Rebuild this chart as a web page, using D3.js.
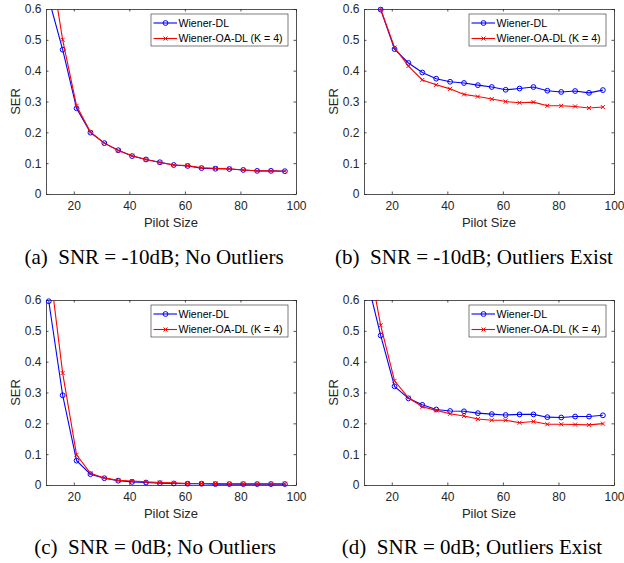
<!DOCTYPE html>
<meta charset="utf-8">
<head>
  <title>SER vs pilot size</title>
  <script type="text/javascript" src="https://d3js.org/d3.v7.min.js"></script>
  <style>
    body { margin: 0; background: #fff; }
    .axis text { font-family: "Liberation Sans", Arial, sans-serif; font-size: 12px; fill: #262626; }
    .lbl { font-family: "Liberation Sans", Arial, sans-serif; font-size: 13px; fill: #262626; }
    .leg { font-family: "Liberation Sans", Arial, sans-serif; font-size: 10.6px; fill: #000; }
    .cap { font-family: "Liberation Serif", "Times New Roman", serif; font-size: 21px; fill: #000; white-space: pre; }
  </style>
</head>

<body>
  <svg width="624" height="563"></svg>
  <script>
    // pilot sizes (x values shared by every panel)
    var pilot = [11, 16, 21, 26, 31, 36, 41, 46, 51, 56, 61, 66, 71, 76, 81, 86, 91, 96];

    // (a) SNR = -10dB, no outliers
    var aDL   = [0.633, 0.468, 0.278, 0.199, 0.165, 0.142, 0.123, 0.112, 0.103, 0.094, 0.091, 0.084, 0.082, 0.081, 0.078, 0.075, 0.075, 0.074];
    var aOA   = [0.780, 0.500, 0.286, 0.201, 0.165, 0.141, 0.124, 0.112, 0.102, 0.094, 0.092, 0.085, 0.083, 0.082, 0.078, 0.075, 0.075, 0.074];
    // (b) SNR = -10dB, outliers exist
    var bDL   = [0.750, 0.598, 0.470, 0.425, 0.394, 0.374, 0.364, 0.360, 0.353, 0.347, 0.338, 0.342, 0.347, 0.335, 0.331, 0.334, 0.328, 0.337];
    var bOA   = [0.780, 0.600, 0.475, 0.415, 0.370, 0.354, 0.341, 0.323, 0.316, 0.308, 0.300, 0.296, 0.298, 0.286, 0.286, 0.284, 0.279, 0.282];
    // (c) SNR = 0dB, no outliers
    var cDL   = [0.596, 0.291, 0.079, 0.035, 0.022, 0.014, 0.010, 0.008, 0.006, 0.005, 0.004, 0.004, 0.003, 0.003, 0.003, 0.003, 0.003, 0.003];
    var cOA   = [0.730, 0.363, 0.098, 0.038, 0.023, 0.015, 0.013, 0.010, 0.008, 0.007, 0.005, 0.005, 0.005, 0.004, 0.004, 0.004, 0.004, 0.004];
    // (d) SNR = 0dB, outliers exist
    var dDL   = [0.670, 0.485, 0.320, 0.281, 0.260, 0.245, 0.240, 0.239, 0.233, 0.230, 0.227, 0.229, 0.229, 0.220, 0.219, 0.222, 0.222, 0.226];
    var dOA   = [0.760, 0.518, 0.338, 0.283, 0.254, 0.242, 0.231, 0.224, 0.214, 0.210, 0.210, 0.202, 0.206, 0.197, 0.197, 0.196, 0.195, 0.199];

    var seriesNames = ["Wiener-DL", "Wiener-OA-DL (K = 4)"];
    var xTicks = [20, 40, 60, 80, 100];
    var yTicks = [0, 0.1, 0.2, 0.3, 0.4, 0.5, 0.6];
    var captions = ["(a)  SNR = -10dB; No Outliers", "(b)  SNR = -10dB; Outliers Exist",
                    "(c)  SNR = 0dB; No Outliers", "(d)  SNR = 0dB; Outliers Exist"];

    var svg = d3.select("svg"),
      w = 250,
      h = 185,
      axCol = "#262626";

    var panels = [
      { left: 46, top: 9, dl: aDL, oa: aOA, cx: 154, cy: 264 },
      { left: 364, top: 9, dl: bDL, oa: bOA, cx: 474, cy: 264 },
      { left: 46, top: 300, dl: cDL, oa: cOA, cx: 155, cy: 554 },
      { left: 364, top: 300, dl: dDL, oa: dOA, cx: 472, cy: 554 }
    ];

    var x = d3.scaleLinear().domain([10, 100]).range([0, w]);
    var y = d3.scaleLinear().domain([0, 0.6]).range([h, 0]);

    var line = d3.line()
      .x(function(d) { return x(d[0]); })
      .y(function(d) { return y(d[1]); });

    panels.forEach(function(p, i) {
      var g = svg.append("g").attr("transform", "translate(" + p.left + "," + p.top + ")");

      g.append("clipPath").attr("id", "clip" + i)
        .append("rect").attr("width", w).attr("height", h);

      // axes with inward ticks on all four sides
      var ax = [
        { a: d3.axisBottom(x).tickValues(xTicks).tickFormat(d3.format("d")).tickPadding(7), t: "translate(0," + h + ")" },
        { a: d3.axisTop(x).tickValues(xTicks).tickFormat(""), t: "translate(0,0)" },
        { a: d3.axisLeft(y).tickValues(yTicks).tickFormat(function(d) { return d === 0 ? "0" : d3.format(".1f")(d); }).tickPadding(4.5), t: "translate(0,0)" },
        { a: d3.axisRight(y).tickValues(yTicks).tickFormat(""), t: "translate(" + w + ",0)" }
      ];
      ax.forEach(function(o) {
        var s = g.append("g").attr("class", "axis").attr("transform", o.t)
          .call(o.a.tickSizeInner(-2.5).tickSizeOuter(0));
        s.select(".domain").attr("stroke", axCol).attr("stroke-width", 0.8);
        s.selectAll(".tick line").attr("stroke", axCol).attr("stroke-width", 0.8);
      });

      var series = [
        { v: p.dl, col: "#0000ff" },
        { v: p.oa, col: "#ff0000" }
      ];

      series.forEach(function(s, k) {
        var pts = pilot.map(function(px, j) { return [px, s.v[j]]; });
        g.append("path")
          .datum(pts)
          .attr("clip-path", "url(#clip" + i + ")")
          .attr("fill", "none")
          .attr("stroke", s.col)
          .attr("stroke-width", 1.1)
          .attr("d", line);

        var shown = pts.filter(function(d) { return d[1] <= 0.6; });
        if (k === 0) {
          g.selectAll(".mo").data(shown).enter().append("circle")
            .attr("cx", function(d) { return x(d[0]); })
            .attr("cy", function(d) { return y(d[1]); })
            .attr("r", 2.4)
            .attr("fill", "none")
            .attr("stroke", s.col)
            .attr("stroke-width", 1);
        } else {
          g.selectAll(".mx").data(shown).enter().append("path")
            .attr("transform", function(d) { return "translate(" + x(d[0]) + "," + y(d[1]) + ")"; })
            .attr("d", "M-2,-2L2,2M-2,2L2,-2")
            .attr("stroke", s.col)
            .attr("stroke-width", 1);
        }
      });

      // axis labels
      g.append("text").attr("class", "lbl")
        .attr("x", w / 2).attr("y", h + 33)
        .attr("text-anchor", "middle").text("Pilot Size");
      g.append("text").attr("class", "lbl")
        .attr("transform", "translate(-26.5," + (h / 2) + ") rotate(-90)")
        .attr("text-anchor", "middle").text("SER");

      // legend
      var lx = w - 145, ly = 5;
      var leg = g.append("g").attr("transform", "translate(" + lx + "," + ly + ")");
      leg.append("rect").attr("width", 137).attr("height", 32)
        .attr("fill", "#fff").attr("stroke", axCol).attr("stroke-width", 0.6);
      series.forEach(function(s, k) {
        var yy = 9 + k * 15.5;
        leg.append("line").attr("x1", 2.5).attr("x2", 26).attr("y1", yy).attr("y2", yy)
          .attr("stroke", s.col).attr("stroke-width", 1.1);
        if (k === 0) {
          leg.append("circle").attr("cx", 14.5).attr("cy", yy).attr("r", 2.4)
            .attr("fill", "none").attr("stroke", s.col);
        } else {
          leg.append("path").attr("transform", "translate(14.5," + yy + ")")
            .attr("d", "M-2,-2L2,2M-2,2L2,-2").attr("stroke", s.col);
        }
        leg.append("text").attr("class", "leg")
          .attr("x", 27.5).attr("y", yy).attr("dy", "0.35em")
          .text(seriesNames[k]);
      });

      // caption
      svg.append("text").attr("class", "cap")
        .attr("x", p.cx).attr("y", p.cy)
        .attr("text-anchor", "middle")
        .text(captions[i]);
    });
  </script>
</body>
